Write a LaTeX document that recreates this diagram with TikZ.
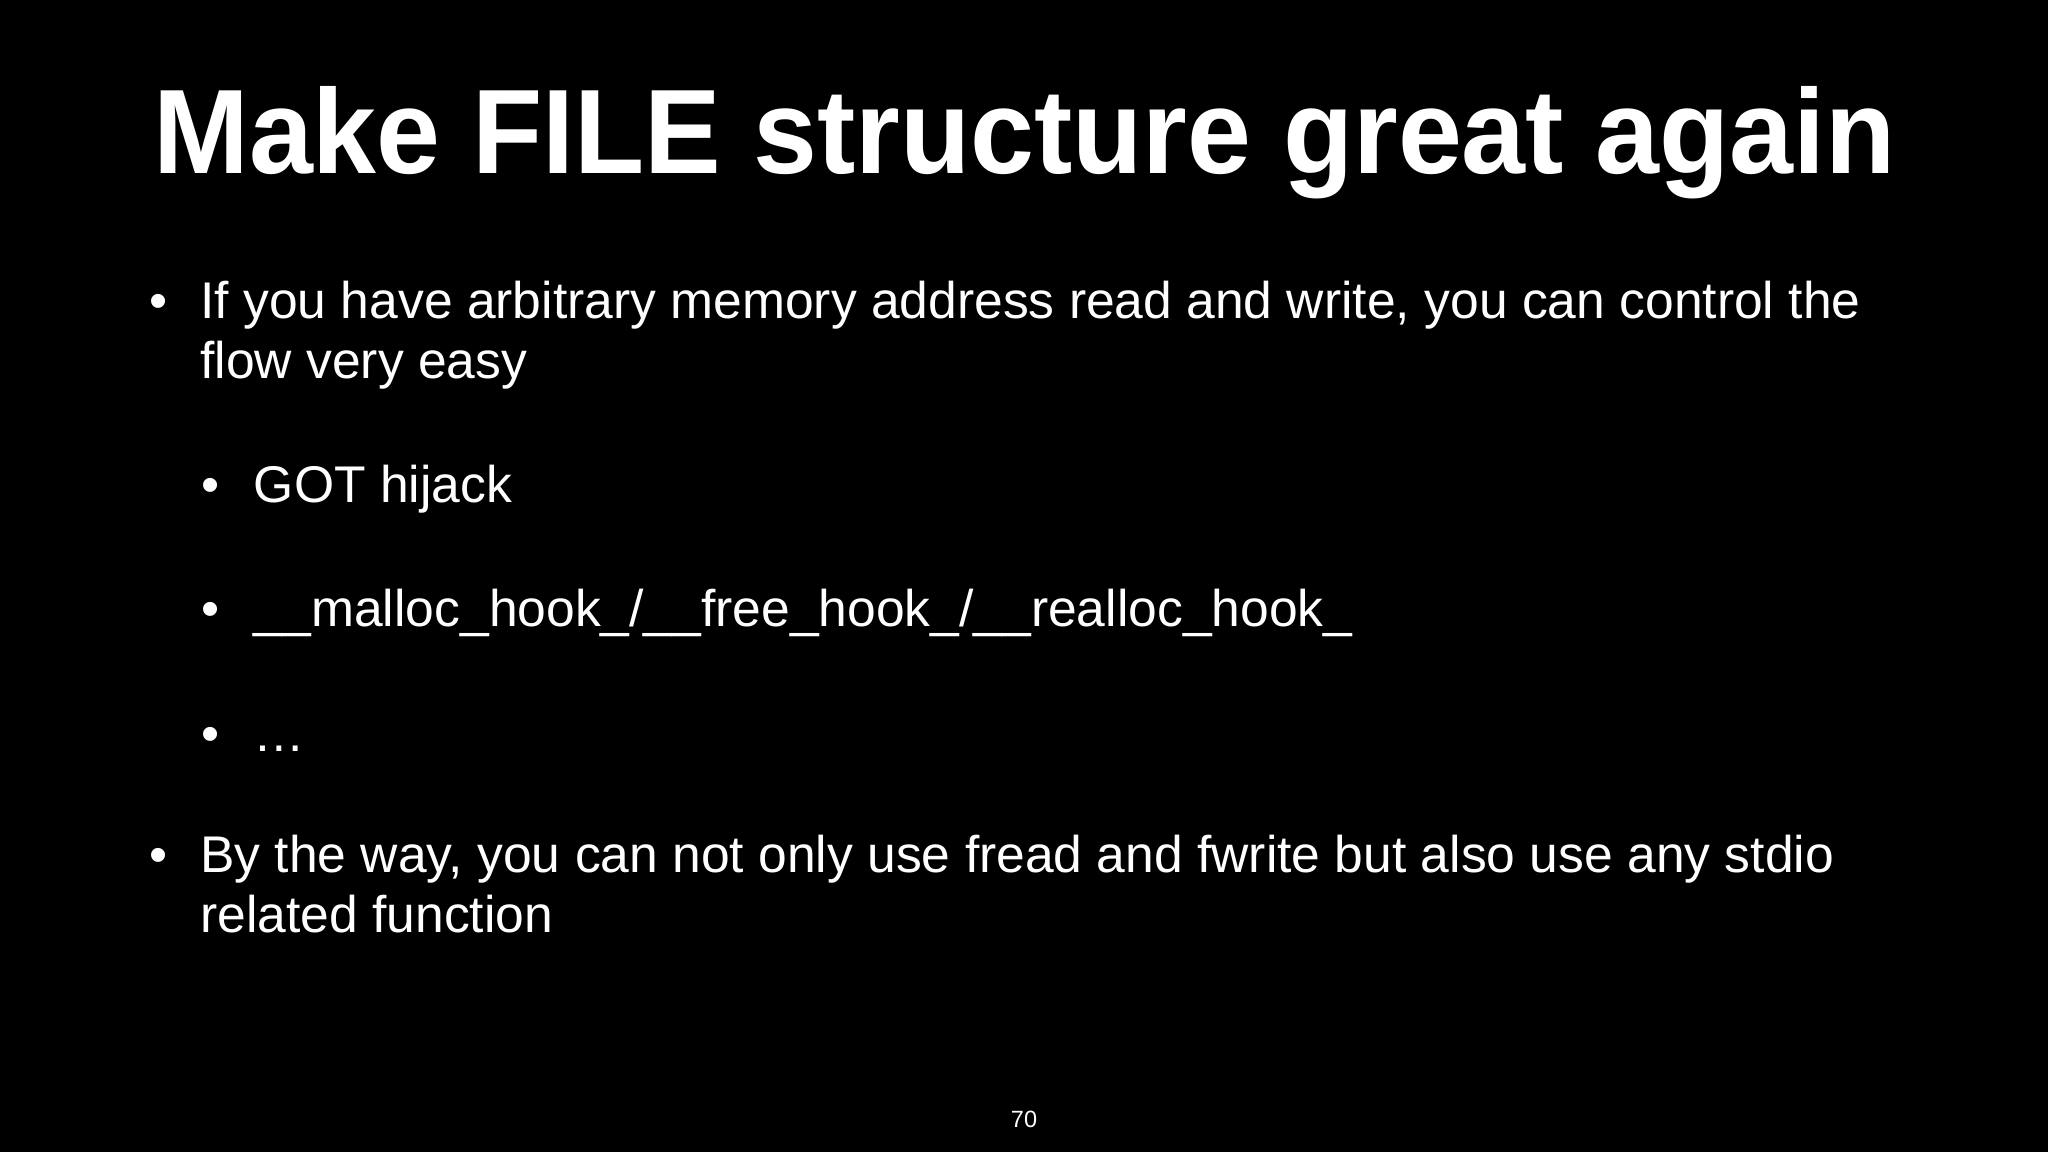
\documentclass[tikz,border=0pt]{standalone}
\usepackage{fontspec}
\setmainfont{Liberation Sans}
\newfontfamily\titlefont[FakeStretch=0.956]{Liberation Sans}
\begin{document}
\begin{tikzpicture}[x=0.5pt,y=-0.5pt,
  txt/.style={anchor=base west,inner sep=0pt,text=white,font=\fontsize{19.75}{23}\selectfont},
  dot/.style={anchor=base,inner sep=0pt,text=white,font=\fontsize{19.75}{23}\selectfont}]
\fill[black] (0,0) rectangle (1568,882);
\useasboundingbox (0,0) rectangle (1568,882);
\node[anchor=base west,inner sep=0pt,text=white,font=\titlefont\fontsize{46}{50}\selectfont\bfseries] (title) at (117,133) {Make FILE structure great again};
\node[dot] (d1) at (121,244) {•};
\node[txt] (t1) at (153,244) {If you have arbitrary memory address read and write, you can control the};
\node[txt] (t1b) at (153,290) {flow very easy};
\node[dot] (d2) at (161,385) {•};
\node[txt] (t2) at (194,385) {GOT hijack};
\node[dot] (d3) at (161,480) {•};
\node[txt] (t3) at (194,480) {\_\_malloc\_hook\_/\_\_free\_hook\_/\_\_realloc\_hook\_};
\node[dot] (d4) at (161,575) {•};
\node[txt] (t4) at (194,575) {…};
\node[dot] (d5) at (121,668) {•};
\node[txt] (t5) at (153,668) {By the way, you can not only use fread and fwrite but also use any stdio};
\node[txt] (t5b) at (153,714) {related function};
\node[anchor=base,inner sep=0pt,text=white,font=\fontsize{9}{10}\selectfont] (pg) at (784,863) {70};
\end{tikzpicture}
\end{document}
